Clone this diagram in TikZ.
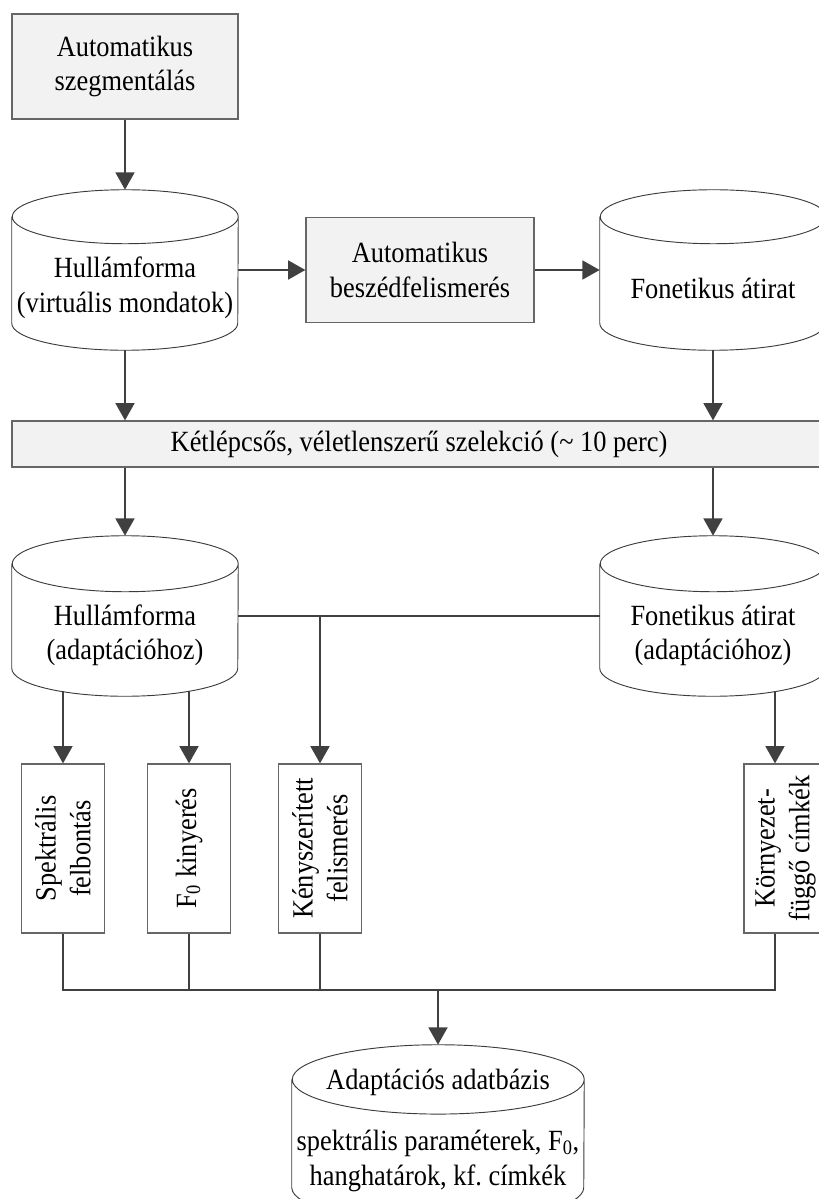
\documentclass[tikz,border=0pt]{standalone}
\usepackage{fontspec}
\setmainfont[FakeStretch=0.9]{Liberation Serif}
\usepackage{tikz}
\usetikzlibrary{arrows.meta,calc}
\definecolor{ink}{RGB}{0,0,0}
\definecolor{wire}{RGB}{64,64,64}
\definecolor{panel}{RGB}{242,242,242}
\definecolor{rim}{RGB}{102,102,102}
\definecolor{shellgray}{RGB}{60,60,60}
\tikzset{
  flow/.style={line width=2.1pt,wire,-{Triangle[length=13pt,width=14pt]}},
  wirepath/.style={line width=2.1pt,wire},
  txt/.style={font=\fontsize{22}{26}\selectfont,align=center,text=ink},
  procbox/.style={txt,draw=rim,fill=panel,line width=0.8pt,inner sep=2pt},
  vbox/.style={txt,draw=rim,fill=white,line width=0.8pt,rotate=90,
    minimum width=126.75pt,minimum height=62.25pt,inner sep=2pt},
  dbnode/.style={inner sep=0pt,minimum width=169.5pt,minimum height=120pt},
  dbline/.style={draw=shellgray,line width=0.7pt}
}

\begin{document}
\begin{tikzpicture}[x=0.75pt,y=-0.75pt]
  \useasboundingbox (0,0) rectangle (818,1199);
  % first stage
  \node[procbox,minimum width=169.5pt,minimum height=78.75pt] (seg) at (125,66.5) {Automatikus\\szegmentálás};
  \node[dbnode,label={[txt,yshift=-13.5pt]center:Hullámforma\\(virtuális mondatok)}] (hf1) at (125,270) {};
  \node[procbox,minimum width=171pt,minimum height=78.75pt] (asr) at (420,270) {Automatikus\\beszédfelismerés};
  \node[dbnode,label={[txt,yshift=-13.5pt]center:Fonetikus átirat}] (fa1) at (713,270) {};
  \node[procbox,minimum width=610.5pt,minimum height=34.5pt] (sel) at (419,444) {Kétlépcsős, véletlenszerű szelekció (\textasciitilde\ 10 perc)};
  % adaptation data
  \node[dbnode,label={[txt,yshift=-14.5pt]center:Hullámforma\\(adaptációhoz)}] (hf2) at (125,616) {};
  \node[dbnode,label={[txt,yshift=-14.5pt]center:Fonetikus átirat\\(adaptációhoz)}] (fa2) at (713,616) {};
  \node[vbox] (spekt) at (63,848.5) {Spektrális\\felbontás};
  \node[vbox] (f0) at (189,848.5) {F\textsubscript{0} kinyerés};
  \node[vbox] (keny) at (320,848.5) {Kényszerített\\felismerés};
  \node[vbox] (kf) at (785.5,848.5) {Környezet-\\függő címkék};
  \node[dbnode,minimum width=219pt,minimum height=132.75pt,
    label={[txt,yshift=38pt]center:Adaptációs adatbázis},
    label={[txt,yshift=-20.5pt]center:{spektrális paraméterek, F\textsubscript{0},\\hanghatárok, kf.\ címkék}}] (adb) at (438,1133.5) {};

  % cylinder outlines
  \foreach \c/\rx/\ry in {hf1/84.75pt/20.25pt,fa1/84.75pt/20.25pt,hf2/84.75pt/21pt,fa2/84.75pt/21pt,adb/109.5pt/26pt}
    \draw[dbline] ([yshift=-\ry]\c.north west) -- ([yshift=\ry]\c.south west)
      arc[start angle=180,end angle=360,x radius=\rx,y radius=\ry]
      -- ([yshift=-\ry]\c.north east)
      arc[start angle=0,end angle=180,x radius=\rx,y radius=\ry]
      arc[start angle=180,end angle=360,x radius=\rx,y radius=\ry];

  % connectors
  \draw[flow] (seg) -- (hf1);
  \draw[flow] (hf1) -- (asr);
  \draw[flow] (asr) -- (fa1);
  \draw[flow] (hf1) -- (hf1 |- sel.north);
  \draw[flow] (fa1) -- (fa1 |- sel.north);
  \draw[flow] (sel.south -| hf2) -- (hf2);
  \draw[flow] (sel.south -| fa2) -- (fa2);
  \draw[wirepath] (hf2) -- (fa2);
  \draw[flow] (hf2.east -| keny) -- (keny);
  \draw[flow] ($(spekt |- hf2.south)+(0,-5)$) -- (spekt);
  \draw[flow] ($(f0 |- hf2.south)+(0,-5)$) -- (f0);
  \coordinate (kfin) at ($(fa2.south)+(62,-5)$);
  \draw[flow] (kfin) -- (kfin |- kf.east);
  \coordinate (bus) at (438,990);
  \draw[wirepath] (spekt.west) |- (bus);
  \draw[wirepath] (f0.west) |- (bus);
  \draw[wirepath] (keny.west) |- (bus);
  \draw[wirepath] (kfin |- kf.west) |- (bus);
  \draw[flow] (bus) -- (adb);
\end{tikzpicture}
\end{document}
